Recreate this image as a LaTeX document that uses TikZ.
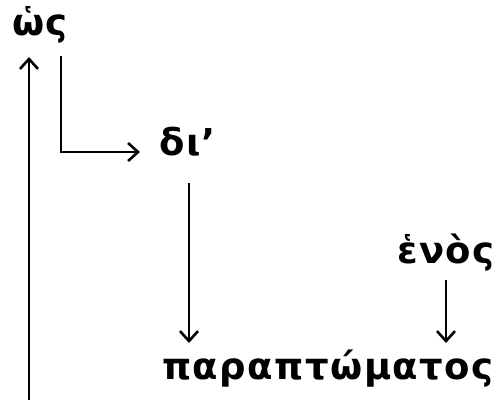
\documentclass[tikz,border=0pt]{standalone}
\usepackage{fontspec}
\newfontfamily\grk[Script=Greek,LetterSpace=4]{DejaVu Sans}
\newcommand\wordfont{\fontsize{37pt}{44pt}\selectfont\grk\bfseries}
\usetikzlibrary{arrows.meta}

\begin{document}
\begin{tikzpicture}[x=1pt,y=-1pt,
  word/.style={font=\wordfont, inner sep=0pt, anchor=base west},
  arr/.style={line width=2.6pt, -{Straight Barb[length=10pt,width=18pt]}}]
  \useasboundingbox (0,0) rectangle (504,400);
  \node[word] (hos) at (12,35) {ὡς};
  \node[word] (di) at (159,155) {δι’};
  \node[word] (enos) at (397,263) {ἑνὸς};
  \node[word] (par) at (162,379) {παραπτώματος};
  \coordinate (foot) at (29,400);
  \coordinate (partop) at ([yshift=36pt]par.base);
  % links between the words
  \draw[arr] (foot) -- ([yshift=-22pt]hos.base -| foot);
  \draw[arr, shorten >=19pt] ([xshift=49pt,yshift=-21pt]hos.base west) |- ([yshift=3pt]di.base west);
  \draw[arr] ([xshift=30pt,yshift=-28pt]di.base west) -- ([xshift=30pt]di.base west |- partop);
  \draw[arr] ([xshift=49pt,yshift=-17pt]enos.base west) -- ([xshift=49pt]enos.base west |- partop);
\end{tikzpicture}
\end{document}
